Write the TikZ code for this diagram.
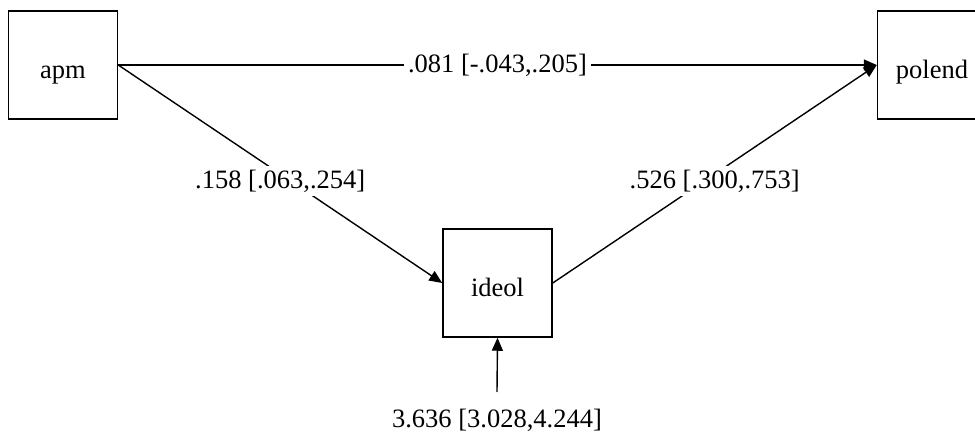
\documentclass[tikz,border=0pt]{standalone}
\usepackage{fontspec}
\setmainfont{Liberation Serif}
\usetikzlibrary{arrows.meta}
\begin{document}
\begin{tikzpicture}[x=1pt,y=-1pt,
  font=\fontsize{26.5}{30}\selectfont,
  varbox/.style={draw,line width=1.5pt,rectangle,minimum width=109pt,minimum height=108pt,
    inner sep=0pt,text height=28pt,text depth=0pt},
  arr/.style={line width=1.4pt,-{Triangle[length=13pt,width=11pt]}},
  lab/.style={fill=white,inner sep=4pt}]
\path[use as bounding box,clip] (0,0) rectangle (975,438);
\node[varbox] (apm) at (63,65) {apm};
\node[varbox] (polend) at (932,65) {polend};
\node[varbox] (ideol) at (497.5,283) {ideol};
\node[inner sep=2pt] (lbl) at (497,420) {3.636 [3.028,4.244]};
\coordinate (src) at (497,392);
\draw[arr] (apm.east) -- node[lab,midway] {.081 [-.043,.205]} (polend.west);
\draw[arr] (apm.east) -- node[lab,midway,yshift=-7pt] {.158 [.063,.254]} (ideol.west);
\draw[arr] (ideol.east) -- node[lab,midway,yshift=-7pt] {.526 [.300,.753]} (polend.west);
\draw[arr] (src) -- (ideol.south);
\end{tikzpicture}
\end{document}
